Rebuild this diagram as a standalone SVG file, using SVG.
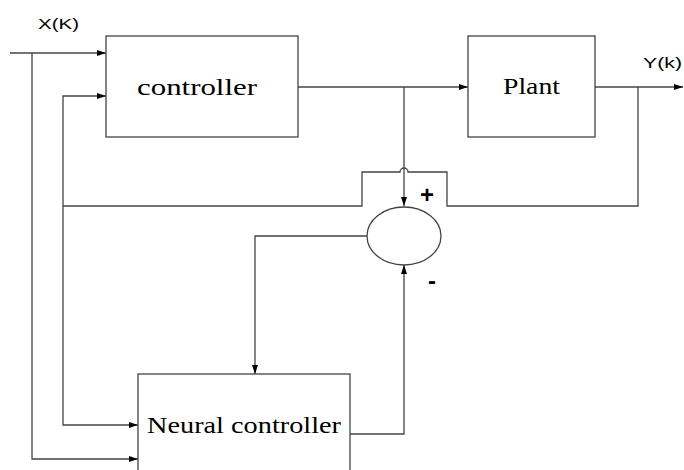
<svg xmlns="http://www.w3.org/2000/svg" width="684" height="470" viewBox="0 0 684 470">
<style>
.box{fill:#fff;stroke:#444;stroke-width:1.3}
.ln{fill:none;stroke:#444;stroke-width:1.3}
.lbl{font-family:"Liberation Serif",serif;font-size:23px;fill:#000}
.sig{font-family:"Liberation Sans",sans-serif;font-size:15px;fill:#000}
.sgn{font-family:"Liberation Sans",sans-serif;font-size:24px;font-weight:bold;fill:#000;text-anchor:middle}
</style>
<defs>
<marker id="ah" markerWidth="10" markerHeight="8" refX="9" refY="4" orient="auto" markerUnits="userSpaceOnUse">
<path d="M0,1 L9,4 L0,7 Z" fill="#000"/>
</marker>
</defs>
<rect width="684" height="470" fill="#fff"/>
<g id="connectors">
<path class="ln" d="M10,53 H106" marker-end="url(#ah)"/>
<path class="ln" d="M32,53 V459 H138" marker-end="url(#ah)"/>
<path class="ln" d="M63,206 V96 H106" marker-end="url(#ah)"/>
<path class="ln" d="M63,206 V425 H138" marker-end="url(#ah)"/>
<path class="ln" d="M298,87 H468" marker-end="url(#ah)"/>
<path class="ln" d="M404,87 V206" marker-end="url(#ah)"/>
<path class="ln" d="M595,87 H683" marker-end="url(#ah)"/>
<path class="ln" d="M638,87 V206 H447 V172 H408 A4,4 0 0 0 400,172 H362 V206 H63"/>
<path class="ln" d="M367,236 H255 V374" marker-end="url(#ah)"/>
<path class="ln" d="M350,434 H404 V265" marker-end="url(#ah)"/>
</g>
<g id="controller">
<rect class="box" x="106" y="36" width="192" height="101"/>
<text class="lbl" x="137" y="95" textLength="120" lengthAdjust="spacingAndGlyphs">controller</text>
</g>
<g id="plant">
<rect class="box" x="468" y="36" width="127" height="101"/>
<text class="lbl" x="503" y="94" textLength="57" lengthAdjust="spacingAndGlyphs">Plant</text>
</g>
<g id="sum">
<ellipse class="box" cx="404" cy="236" rx="37" ry="29"/>
<text class="sgn" x="427" y="203">+</text>
<text class="sgn" x="432" y="289">-</text>
</g>
<g id="neural">
<rect class="box" x="138" y="374" width="212" height="110"/>
<text class="lbl" x="147" y="433" textLength="194" lengthAdjust="spacingAndGlyphs">Neural controller</text>
</g>
<g id="labels">
<text class="sig" x="38" y="29" textLength="41" lengthAdjust="spacingAndGlyphs">X(K)</text>
<text class="sig" x="643" y="68" textLength="39" lengthAdjust="spacingAndGlyphs">Y(k)</text>
</g>
</svg>
